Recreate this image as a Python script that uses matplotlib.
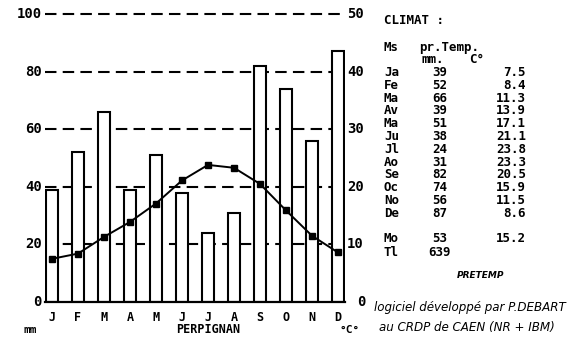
import matplotlib
matplotlib.use("Agg")
import matplotlib.pyplot as plt

# Monthly climate normals for Perpignan
months = ["J", "F", "M", "A", "M", "J", "J", "A", "S", "O", "N", "D"]
month_abbr = ["Ja", "Fe", "Ma", "Av", "Ma", "Ju", "Jl", "Ao", "Se", "Oc", "No", "De"]
precip_mm = [39, 52, 66, 39, 51, 38, 24, 31, 82, 74, 56, 87]
temp_c = [7.5, 8.4, 11.3, 13.9, 17.1, 21.1, 23.8, 23.3, 20.5, 15.9, 11.5, 8.6]
mean_precip = 53
mean_temp = 15.2
total_precip = 639
precip_ticks = [0, 20, 40, 60, 80, 100]
temp_ticks = [0, 10, 20, 30, 40, 50]

W, H = 573, 349
fig = plt.figure(figsize=(W / 100, H / 100), dpi=100)
fig.patch.set_facecolor("white")

MONO = "DejaVu Sans Mono"

def px(x, y):
    return x / W, 1 - y / H

def label(x, y, s, ha="left", size=9, **kw):
    kw.setdefault("family", MONO)
    kw.setdefault("fontweight", "bold")
    fig.text(*px(x, y), s, ha=ha, va="baseline", fontsize=size, **kw)

# axes in pixel box: x 45..345, y 14..302
x0, x1, y0, y1 = 45, 345, 14, 302
ax = fig.add_axes([x0 / W, 1 - y1 / H, (x1 - x0) / W, (y1 - y0) / H])
ax.set_xlim(-0.27, 11.27)
ax.set_ylim(0, 100)
for s in ["left", "right", "top"]:
    ax.spines[s].set_visible(False)
ax.spines["bottom"].set_linewidth(1.6)
ax.set_xticks([])
ax.set_yticks([])
ax.set_facecolor("none")

# dashed reference lines
for v in precip_ticks[1:]:
    ax.axhline(v, color="black", lw=1.5, ls=(0, (5.5, 3)), zorder=1,
               clip_on=False)

# precipitation bars
xs = list(range(len(months)))
ax.bar(xs, precip_mm, width=0.47, color="white", edgecolor="black",
       linewidth=1.5, zorder=2)

# temperature curve on a 0-50 scale
ax2 = ax.twinx()
ax2.set_ylim(0, 50)
ax2.set_xlim(ax.get_xlim())
for s in ["left", "right", "top", "bottom"]:
    ax2.spines[s].set_visible(False)
ax2.set_yticks([])
ax2.plot(xs, temp_c, color="black", lw=1.4, marker="s", ms=4.5, zorder=3)

# axis labels
for v in precip_ticks:
    fx, fy = px(x0 - 3, y1 - v / 100 * (y1 - y0))
    fig.text(fx, fy, str(v), ha="right", va="center", family=MONO,
             fontsize=10, fontweight="bold")
for v in temp_ticks:
    xx = x1 + 2 if v else x1 + 12
    yy = y1 - v / 50 * (y1 - y0)
    fig.text(*px(xx, yy), str(v), ha="left", va="center", family=MONO,
             fontsize=10, fontweight="bold")

for i, m in enumerate(months):
    xd = ax.transData.transform((i, 0))[0]
    label(xd, 321, m, ha="center", size=8.5)

label(30, 333, "mm", ha="center", size=8)
label(208, 333, "PERPIGNAN", ha="center", size=8.5)
label(350, 333, "°C°", ha="center", size=8)

# climate table
label(384, 24, "CLIMAT :")
label(384, 51, "Ms")
label(419, 51, "pr.Temp.")
label(421, 63, "mm.")
label(469, 63, "C°")

row_y0, row_dy = 76, 12.8
for i, (ab, p, t) in enumerate(zip(month_abbr, precip_mm, temp_c)):
    yy = row_y0 + i * row_dy
    label(384, yy, ab)
    label(447, yy, str(p), ha="right")
    label(526, yy, f"{t:.1f}", ha="right")

label(384, 242, "Mo")
label(447, 242, str(mean_precip), ha="right")
label(526, 242, f"{mean_temp:.1f}", ha="right")
label(384, 256, "Tl")
label(451, 256, str(total_precip), ha="right")

# software credits
fig.text(*px(481, 275), "PRETEMP", ha="center", va="center",
         family="DejaVu Sans", fontsize=6.5, style="italic", fontweight="bold")
fig.text(*px(470, 308), "logiciel développé par P.DEBART", ha="center",
         va="center", family="DejaVu Sans", fontsize=8.6, style="italic")
fig.text(*px(467, 327), "au CRDP de CAEN (NR + IBM)", ha="center",
         va="center", family="DejaVu Sans", fontsize=8.6, style="italic")

fig.savefig("out.png", dpi=100, facecolor="white")
